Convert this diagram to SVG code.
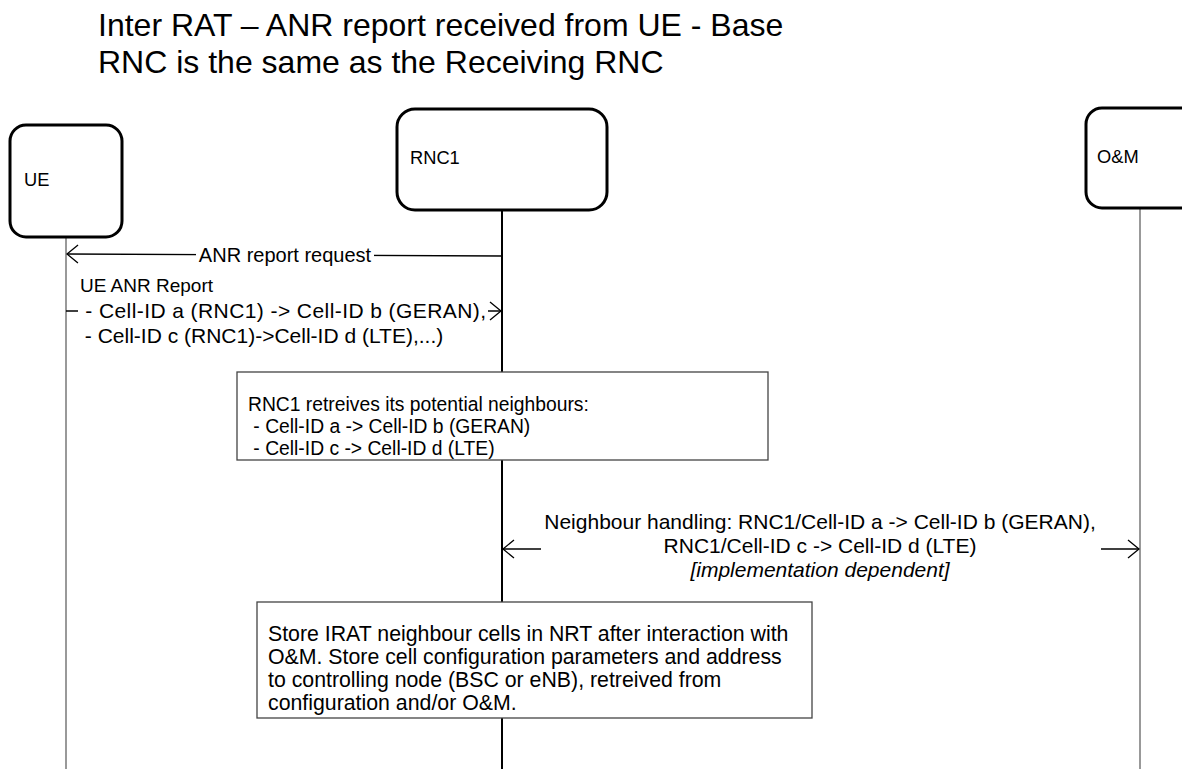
<svg xmlns="http://www.w3.org/2000/svg" width="1182" height="769" viewBox="0 0 1182 769">
<defs>
<style>
text{font-family:"Liberation Sans",Arial,sans-serif;fill:#000}
.title{font-size:32px}
.node{fill:#fff;stroke:#000;stroke-width:3}
.nl{font-size:18.3px}
.life{stroke:#555;stroke-width:1.2}
.lifem{stroke:#000;stroke-width:2}
.msg{stroke:#000;stroke-width:1.3;fill:none}
.lbl{font-size:20px}
.lbl1{font-size:19px}
.lbl2{font-size:21px}
.bg{fill:#fff}
.box{fill:#fff;stroke:#444;stroke-width:1.3}
.b1{font-size:19.3px}
.b2{font-size:21.3px}
</style>
<marker id="arr" markerUnits="userSpaceOnUse" markerWidth="13" markerHeight="20" viewBox="0 0 13 20" refX="12" refY="10" orient="auto-start-reverse">
<path d="M1,1 L12,10 L1,19" fill="none" stroke="#000" stroke-width="1.3"/>
</marker>
</defs>
<rect width="1182" height="769" fill="#fff"/>
<g id="title">
<text class="title" x="98" y="36">Inter RAT – ANR report received from UE - Base</text>
<text class="title" x="98" y="73">RNC is the same as the Receiving RNC</text>
</g>
<g id="lifelines">
<line class="life" x1="66" y1="237" x2="66" y2="769"/>
<line class="lifem" x1="502" y1="210" x2="502" y2="769"/>
<line class="life" x1="1140" y1="208" x2="1140" y2="769"/>
</g>
<g id="UE">
<rect class="node" x="10" y="125" width="112" height="112" rx="16"/>
<text class="nl" x="24" y="186">UE</text>
</g>
<g id="RNC1">
<rect class="node" x="397" y="109" width="210" height="101" rx="18"/>
<text class="nl" x="410" y="164">RNC1</text>
</g>
<g id="OM">
<rect class="node" x="1086" y="108" width="130" height="100" rx="16"/>
<text class="nl" x="1097" y="163">O&amp;M</text>
</g>
<g id="connectors">
<line class="msg" x1="502" y1="256" x2="67" y2="254" marker-end="url(#arr)"/>
<line class="msg" x1="66" y1="311" x2="501" y2="311" marker-end="url(#arr)"/>
<line class="msg" x1="503" y1="549" x2="1139" y2="549" marker-start="url(#arr)" marker-end="url(#arr)"/>
</g>
<g id="label-anr-request">
<rect class="bg" x="196" y="244" width="178" height="22"/>
<text class="lbl" x="285" y="262" text-anchor="middle">ANR report request</text>
</g>
<g id="label-ue-anr-report">
<rect class="bg" x="78" y="300" width="410" height="22"/>
<text class="lbl1" x="80" y="292">UE ANR Report</text>
<text class="lbl2" x="79" y="318" xml:space="preserve" textLength="407" lengthAdjust="spacing"> - Cell-ID a (RNC1) -&gt; Cell-ID b (GERAN),</text>
<text class="lbl2" x="79" y="343" xml:space="preserve"> - Cell-ID c (RNC1)-&gt;Cell-ID d (LTE),...)</text>
</g>
<g id="box-retrieve">
<rect class="box" x="237" y="372" width="531" height="88"/>
<text class="b1" x="248" y="411">RNC1 retreives its potential neighbours:</text>
<text class="b1" x="248" y="433" xml:space="preserve"> - Cell-ID a -&gt; Cell-ID b (GERAN)</text>
<text class="b1" x="248" y="455" xml:space="preserve"> - Cell-ID c -&gt; Cell-ID d (LTE)</text>
</g>
<g id="label-neighbour-handling">
<rect class="bg" x="541" y="510" width="560" height="76"/>
<text class="lbl2" x="820" y="529" text-anchor="middle">Neighbour handling: RNC1/Cell-ID a -&gt; Cell-ID b (GERAN),</text>
<text class="lbl2" x="820" y="553" text-anchor="middle">RNC1/Cell-ID c -&gt; Cell-ID d (LTE)</text>
<text class="lbl2" x="820" y="577" text-anchor="middle" font-style="italic">[implementation dependent]</text>
</g>
<g id="box-store">
<rect class="box" x="257" y="602" width="555" height="116"/>
<text class="b2" x="268" y="641">Store IRAT neighbour cells in NRT after interaction with</text>
<text class="b2" x="268" y="664">O&amp;M. Store cell configuration parameters and address</text>
<text class="b2" x="268" y="687">to controlling node (BSC or eNB), retreived from</text>
<text class="b2" x="268" y="710">configuration and/or O&amp;M.</text>
</g>
</svg>
